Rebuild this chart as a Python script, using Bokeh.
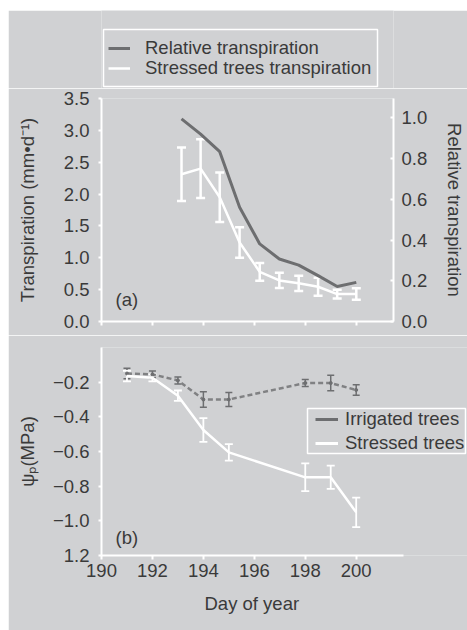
from bokeh.plotting import figure
from bokeh.models import (ColumnDataSource, Range1d, LinearAxis, FixedTicker,
                          Whisker, TeeHead, Legend, LegendItem, Label, Title,
                          PrintfTickFormatter)
from bokeh.layouts import column
from bokeh.embed import file_html
from bokeh.resources import INLINE

# ---- panel (a): transpiration ----
trans_day = [193.14, 193.89, 194.64, 195.42, 196.21, 196.98, 197.74, 198.50, 199.25, 200.00]
stressed_trans = [2.31, 2.40, 1.95, 1.24, 0.78, 0.645, 0.60, 0.545, 0.43, 0.43]
stressed_trans_err = [0.42, 0.46, 0.39, 0.24, 0.14, 0.12, 0.12, 0.14, 0.07, 0.09]
relative_trans = [0.995, 0.92, 0.834, 0.561, 0.381, 0.307, 0.277, 0.225, 0.172, 0.192]

# ---- panel (b): predawn water potential ----
psi_day = [191, 192, 193, 194, 195, 198, 199, 200]
irrigated_psi = [-0.15, -0.155, -0.19, -0.30, -0.30, -0.205, -0.205, -0.245]
irrigated_err = [0.03, 0.02, 0.02, 0.045, 0.04, 0.02, 0.045, 0.03]
stressed_psi = [-0.165, -0.175, -0.278, -0.476, -0.605, -0.749, -0.749, -0.951]
stressed_err = [0.03, 0.02, 0.03, 0.068, 0.048, 0.08, 0.067, 0.085]

day_ticks = [190, 192, 194, 196, 198, 200]
trans_ticks = [0.0, 0.5, 1.0, 1.5, 2.0, 2.5, 3.0, 3.5]
rel_ticks = [0.0, 0.2, 0.4, 0.6, 0.8, 1.0]
psi_ticks = [-1.2, -1.0, -0.8, -0.6, -0.4, -0.2]
psi_tick_labels = ["1.2", "\u22121.0", "\u22120.8", "\u22120.6", "\u22120.4", "\u22120.2"]

BG = "#d0d1d3"
DARK = "#6d6e70"
DASH = "#808183"
TXT = "#3a3a3a"
FONT = "Liberation Sans"
FS = "18.5px"
NAN2 = [float("nan")] * 2   # legend-only keys carry no visible data


def style_axis(ax, tick_out=3, tick_in=0):
    ax.axis_line_color = "white"
    ax.axis_line_width = 2
    ax.major_tick_line_color = "white"
    ax.major_tick_line_width = 2
    ax.major_tick_out = tick_out
    ax.major_tick_in = tick_in
    ax.minor_tick_line_color = None
    ax.major_label_text_color = TXT
    ax.major_label_text_font = FONT
    ax.major_label_text_font_size = FS
    ax.axis_label_text_color = TXT
    ax.axis_label_text_font = FONT
    ax.axis_label_text_font_size = FS
    ax.axis_label_text_font_style = "normal"


def base_fig(xr, yr, fw, fh, top, bottom, right, **kw):
    p = figure(frame_width=fw, frame_height=fh, x_range=xr, y_range=yr,
               output_backend="svg", toolbar_location=None,
               min_border_left=93, min_border_right=right,
               min_border_top=top, min_border_bottom=bottom,
               background_fill_color=BG, border_fill_color=BG,
               outline_line_color=None, **kw)
    p.xgrid.visible = False
    p.ygrid.visible = False
    return p


def key_legend(items, loc):
    return Legend(items=items, location=loc, padding=0, spacing=0,
                  glyph_width=22, glyph_height=24, label_height=24,
                  label_standoff=15, background_fill_alpha=0,
                  border_line_alpha=0, label_text_font=FONT,
                  label_text_font_size=FS, label_text_color=TXT)


def key_frame(p, left, right, bottom, top, **kw):
    # white outline round a legend, given in pixels from the frame's lower-left corner
    p.quad(left=[left], right=[right], bottom=[bottom], top=[top],
           fill_color=None, line_color="white", line_width=1.5, **kw)


# ================= legend strip above panel (a) =================
# same side borders as panel (a), so its frame lines up with panel (a)'s frame
p0 = base_fig(Range1d(0, 292), Range1d(0, 78), 292, 78, 0, 0, 74,
              x_axis_type=None, y_axis_type=None)
k_rel = p0.line(x=NAN2, y=NAN2, line_color=DARK, line_width=3)
k_str = p0.line(x=NAN2, y=NAN2, line_color="white", line_width=2.5)
key_frame(p0, 2, 276, 2, 59)
p0.add_layout(key_legend([LegendItem(label="Relative transpiration", renderers=[k_rel])], (7, 28)))
p0.add_layout(key_legend([LegendItem(label="Stressed trees transpiration", renderers=[k_str])], (7, 8)))

# ================= panel (a) =================
src_a = ColumnDataSource(dict(
    day=trans_day, t=stressed_trans,
    lo=[v - e for v, e in zip(stressed_trans, stressed_trans_err)],
    hi=[v + e for v, e in zip(stressed_trans, stressed_trans_err)],
    rel=relative_trans))

p1 = base_fig(Range1d(190, 201.46), Range1d(0, 3.5), 292, 223, 10, 14, 74)
p1.extra_y_ranges = {"rel": Range1d(0, 1.095)}

p1.xaxis.ticker = FixedTicker(ticks=day_ticks)
style_axis(p1.xaxis[0], tick_out=4)
p1.xaxis.major_label_overrides = {t: "" for t in day_ticks}
p1.xaxis.major_label_standoff = 0

p1.yaxis.ticker = FixedTicker(ticks=trans_ticks)
p1.yaxis.formatter = PrintfTickFormatter(format="%.1f")
style_axis(p1.yaxis[0], tick_out=3)
p1.yaxis.axis_label = "Transpiration (mm\u2022d\u207b\u00b9)"
p1.yaxis.major_label_standoff = 9
p1.yaxis.axis_label_standoff = 23

rax = LinearAxis(y_range_name="rel", ticker=FixedTicker(ticks=rel_ticks),
                 formatter=PrintfTickFormatter(format="%.1f"),
                 axis_label="Relative transpiration")
style_axis(rax, tick_out=0, tick_in=3)
rax.major_label_standoff = 8
rax.axis_label_standoff = 14
p1.add_layout(rax, "right")

p1.line("day", "rel", source=src_a, y_range_name="rel", line_color=DARK, line_width=3)
p1.line("day", "t", source=src_a, line_color="white", line_width=2.5)
p1.add_layout(Whisker(base="day", lower="lo", upper="hi", source=src_a,
                      line_color="white", line_width=2.5,
                      upper_head=TeeHead(size=9, line_color="white", line_width=2.5),
                      lower_head=TeeHead(size=9, line_color="white", line_width=2.5)))
p1.add_layout(Label(x=190.55, y=0.345, text="(a)", text_font=FONT,
                    text_font_size=FS, text_color=TXT, text_baseline="middle"))

# ================= panel (b) =================
src_b = ColumnDataSource(dict(
    day=psi_day, irr=irrigated_psi, st=stressed_psi,
    irr_lo=[v - e for v, e in zip(irrigated_psi, irrigated_err)],
    irr_hi=[v + e for v, e in zip(irrigated_psi, irrigated_err)],
    st_lo=[v - e for v, e in zip(stressed_psi, stressed_err)],
    st_hi=[v + e for v, e in zip(stressed_psi, stressed_err)]))

# the frame runs to the right edge so the legend has room; the axis stops at day ~201.9
p2 = base_fig(Range1d(190, 204.37), Range1d(-1.2, 0), 366, 208, 12, 75, 0)
p2.extra_x_ranges = {"px": Range1d(0, 366)}
p2.extra_y_ranges = {"px": Range1d(0, 208)}
p2.xaxis.ticker = FixedTicker(ticks=day_ticks)
p2.xaxis.bounds = (190, 201.86)
style_axis(p2.xaxis[0], tick_out=4)
p2.xaxis.major_label_standoff = 4

p2.yaxis.ticker = FixedTicker(ticks=psi_ticks)
style_axis(p2.yaxis[0], tick_out=3)
p2.yaxis.major_label_overrides = dict(zip(psi_ticks, psi_tick_labels))
p2.yaxis.major_label_standoff = 9
p2.yaxis.axis_label = "\u03c8\u209a(MPa)"
p2.yaxis.axis_label_standoff = 12

p2.add_layout(Title(text="Day of year", align="left", offset=103, standoff=26,
                    vertical_align="top", text_font=FONT, text_font_size=FS,
                    text_color=TXT, text_font_style="normal"), "below")

p2.line("day", "irr", source=src_b, line_color=DASH, line_width=2.5, line_dash="5 3")
p2.scatter("day", "irr", source=src_b, size=3, color=DARK)
p2.add_layout(Whisker(base="day", lower="irr_lo", upper="irr_hi", source=src_b,
                      line_color=DARK, line_width=1.5,
                      upper_head=TeeHead(size=7, line_color=DARK, line_width=1.5),
                      lower_head=TeeHead(size=7, line_color=DARK, line_width=1.5)))
p2.line("day", "st", source=src_b, line_color="white", line_width=2.5)
p2.add_layout(Whisker(base="day", lower="st_lo", upper="st_hi", source=src_b,
                      line_color="white", line_width=1.8,
                      upper_head=TeeHead(size=8, line_color="white", line_width=1.8),
                      lower_head=TeeHead(size=8, line_color="white", line_width=1.8)))

# legend keys are drawn solid
k_irr = p2.line(x=NAN2, y=NAN2, line_color=DARK, line_width=3)
k_st = p2.line(x=NAN2, y=NAN2, line_color="white", line_width=3)
key_frame(p2, 206, 364, 102, 147, x_range_name="px", y_range_name="px")
leg_b = key_legend([LegendItem(label="Irrigated trees", renderers=[k_irr]),
                    LegendItem(label="Stressed trees", renderers=[k_st])], (214, 100))
leg_b.glyph_width = 23
leg_b.label_standoff = 7
p2.add_layout(leg_b)
p2.add_layout(Label(x=190.55, y=-1.095, text="(b)", text_font=FONT,
                    text_font_size=FS, text_color=TXT, text_baseline="middle"))

p0.margin = (10, 0, 0, 8)
for fig in (p1, p2):
    fig.margin = (0, 0, 0, 8)
layout = column(p0, p1, p2, spacing=0)

open("out.html", "w").write(file_html(layout, INLINE))
